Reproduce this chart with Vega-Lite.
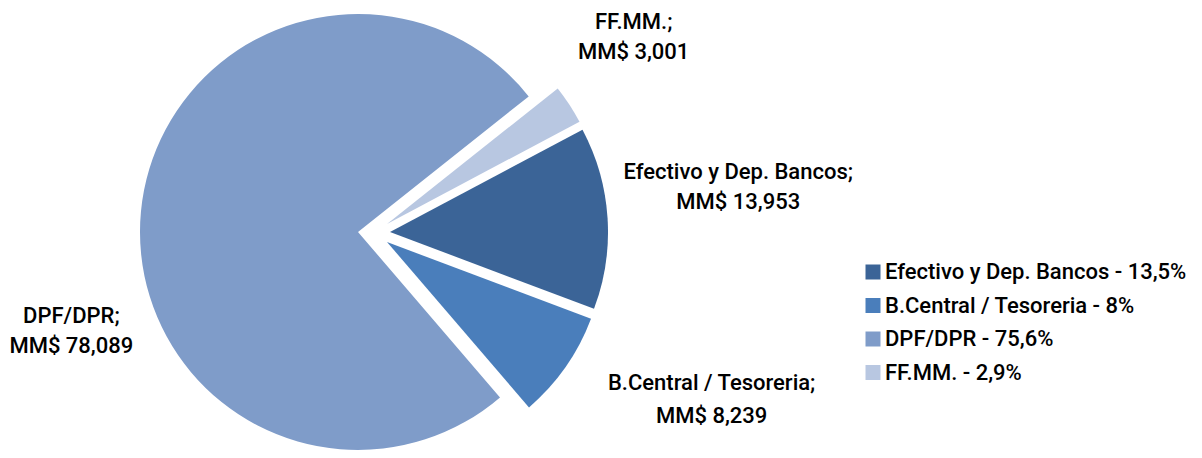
{
  "$schema": "https://vega.github.io/schema/vega-lite/v6.json",
  "width": 748,
  "height": 458,
  "padding": 0,
  "background": "white",
  "config": {"view": {"stroke": null}},
  "data": {"values": [
    {"cat": "Efectivo y Dep. Bancos", "value": 13953, "order": 1, "label": "Efectivo y Dep. Bancos;\nMM$ 13,953", "legend": "Efectivo y Dep. Bancos - 13,5%"},
    {"cat": "B.Central / Tesoreria", "value": 8239, "order": 2, "label": "B.Central / Tesoreria;\nMM$ 8,239", "legend": "B.Central / Tesoreria - 8%"},
    {"cat": "DPF/DPR", "value": 78089, "order": 3, "label": "DPF/DPR;\nMM$ 78,089", "legend": "DPF/DPR - 75,6%"},
    {"cat": "FF.MM.", "value": 3001, "order": 4, "label": "FF.MM.;\nMM$ 3,001", "legend": "FF.MM. - 2,9%"}
  ]},
  "transform": [
    {"stack": "value", "groupby": [], "sort": [{"field": "order", "order": "ascending"}], "as": ["v0", "v1"]},
    {"calculate": "(datum.v0 + datum.v1) / 2", "as": "vmid"}
  ],
  "encoding": {
    "theta": {"field": "v0", "type": "quantitative", "scale": {"domain": [0, 103282], "range": [1.0821, 7.3653], "zero": false}},
    "theta2": {"field": "v1"},
    "color": {
      "field": "legend", "type": "nominal",
      "scale": {
        "domain": ["Efectivo y Dep. Bancos - 13,5%", "B.Central / Tesoreria - 8%", "DPF/DPR - 75,6%", "FF.MM. - 2,9%"],
        "range": ["#3B6497", "#4A7EBB", "#7F9CC9", "#B8C7E1"]
      },
      "legend": {
        "title": null, "orient": "none", "legendX": 862, "legendY": 261, "padding": 0,
        "symbolType": "square", "symbolSize": 225, "symbolStrokeWidth": 0,
        "labelFont": "Roboto", "labelFontSize": 22, "labelFontWeight": 500, "labelColor": "#000000", "labelOffset": 1,
        "rowPadding": 11.5, "labelLimit": 400
      }
    }
  },
  "layer": [
    {"transform": [{"filter": "datum.order == 1"}], "mark": {"type": "arc", "radius": 218, "xOffset": 16, "yOffset": 3}},
    {"transform": [{"filter": "datum.order == 2"}], "mark": {"type": "arc", "radius": 218, "xOffset": 13, "yOffset": 13}},
    {"transform": [{"filter": "datum.order == 3"}], "mark": {"type": "arc", "radius": 218, "xOffset": -16, "yOffset": 3}},
    {"transform": [{"filter": "datum.order == 4"}], "mark": {"type": "arc", "radius": 218, "xOffset": 13, "yOffset": -5}},
    {"transform": [{"filter": "datum.order == 1"}], "mark": {"type": "text", "radius": 360, "dx": 5, "dy": -34, "font": "Roboto", "fontSize": 22, "fontWeight": 500, "color": "#000000", "align": "center", "baseline": "middle", "lineBreak": "\n", "lineHeight": 30},
      "encoding": {"theta": {"field": "vmid", "type": "quantitative"}, "theta2": null, "color": null, "text": {"field": "label"}}},
    {"transform": [{"filter": "datum.order == 2"}], "mark": {"type": "text", "radius": 378, "dx": 28, "dy": -63, "font": "Roboto", "fontSize": 22, "fontWeight": 500, "color": "#000000", "align": "center", "baseline": "middle", "lineBreak": "\n", "lineHeight": 33},
      "encoding": {"theta": {"field": "vmid", "type": "quantitative"}, "theta2": null, "color": null, "text": {"field": "label"}}},
    {"transform": [{"filter": "datum.order == 3"}], "mark": {"type": "text", "radius": 300, "dx": -4, "dy": 115, "font": "Roboto", "fontSize": 22, "fontWeight": 500, "color": "#000000", "align": "center", "baseline": "middle", "lineBreak": "\n", "lineHeight": 30},
      "encoding": {"theta": {"field": "vmid", "type": "quantitative"}, "theta2": null, "color": null, "text": {"field": "label"}}},
    {"transform": [{"filter": "datum.order == 4"}], "mark": {"type": "text", "radius": 320, "dx": -8, "dy": -32, "font": "Roboto", "fontSize": 22, "fontWeight": 500, "color": "#000000", "align": "center", "baseline": "middle", "lineBreak": "\n", "lineHeight": 30},
      "encoding": {"theta": {"field": "vmid", "type": "quantitative"}, "theta2": null, "color": null, "text": {"field": "label"}}}
  ]
}
